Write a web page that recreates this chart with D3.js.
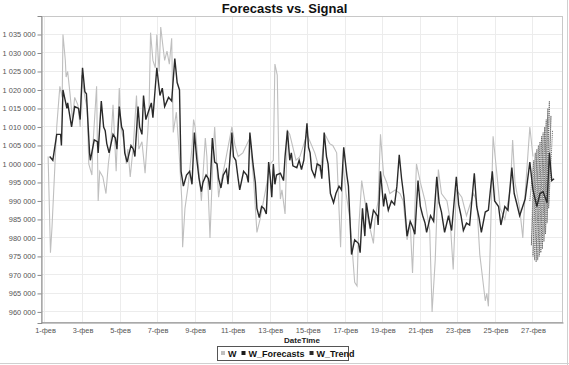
<!DOCTYPE html>
<html><head><meta charset="utf-8">
<script src="https://cdn.jsdelivr.net/npm/d3@7"></script>
<style>
html,body{margin:0;padding:0;background:#fff;}
svg{display:block;font-family:"Liberation Sans",Arial,sans-serif;}
</style></head>
<body>
<svg id="chart" width="569" height="365"></svg>
<script>
// ---- data (hours since 1 Feb 00:00, values in thousands) ----
const title = "Forecasts vs. Signal";
const xTitle = "DateTime";
const seriesNames = ["W", "W_Forecasts", "W_Trend"];
const xTickDays = [1,3,5,7,9,11,13,15,17,19,21,23,25,27];
const xTickLabels = ["1-фев","3-фев","5-фев","7-фев","9-фев","11-фев","13-фев","15-фев","17-фев","19-фев","21-фев","23-фев","25-фев","27-фев"];
const yTicks = [960000,965000,970000,975000,980000,985000,990000,995000,1000000,1005000,1010000,1015000,1020000,1025000,1030000,1035000];

const wHours = [4,7,9,15,19,22,23,26,27,29,32,35,38,42,45,47,51,54,56,60,61,66,68,70,74,78,81,84,87,91,95,97,101,104,106,109,113,117,120,124,128,130,133,135,138,141,143,146,148,151,153,156,159,162,164,168,171,175,176,179,183,188,190,192,196,200,205,207,211,215,217,222,224,230,239,243,247,253,262,267,271,275,283,288,292,294,297,299,301,303,307,310,313,321,326,335,339,345,349,352,358,364,368,373,378,381,385,390,396,399,401,405,409,413,420,422,426,429,433,437,441,448,454,458,463,467,470,475,480,486,492,495,499,503,507,514,518,522,526,533,539,548,552,556,563,565,567,569,573,578,582,588,595,598,601,607,611,614,620,624];
const wValues = [1002,976,983,1010,1021,1018,1035,1028,1023.5,1025,1019,1012,1018,1016,1010,1024,1018,1015,1000,997,1004,1021,990,998,996.5,992,1000,1005,1016,998,1020.5,1010,1006,1000,1004,996.5,1005,1018.5,1004,1006,997.5,1004,1014,1035.5,1028,1026,1035,1025,1037,1031.5,1028,1030.5,1027,1034,1008.5,1014,1005,990,977.5,988,994,1004.5,1012,1010,1000,990,1007,1002,980,1003,1010,991,994,1000,1010,1005,1002,1003,1007,995,981.5,985,994,1000,1001,1027,1024,1001,990.5,993,986.5,1009,1008,1001,1002,1008,1006,1003,1000,998,1008,1005.5,1005,1003,977.5,1000,992,985,968,967,982,995.5,990,985,978.5,985,990,1008,997,995,992,993,992,990,979.5,984,970.5,1000,995,990,982,960,974,998.5,992,990,985,971.5,993,991,986,992,990,975.5,963,965,961.5,975,1007.5,997,988,985,993,1006.5,995,988,980,992,1010,1002];

const trendHours = [6,10,15,20,21,23,28,29,34,38,43,45,48,51,53,57,58,63,67,68,72,75,77,79,82,87,90,92,95,98,100,102,105,110,113,115,119,121,124,126,129,132,136,138,143,147,150,153,158,162,166,169,172,174,177,181,185,188,191,194,197,200,202,206,209,211,214,217,220,222,225,228,232,234,239,241,244,247,249,254,258,260,262,266,269,271,274,277,280,283,286,288,290,292,294,296,301,305,307,310,313,315,317,322,325,328,331,335,337,339,341,345,348,352,354,357,360,362,365,369,372,376,379,382,386,388,392,396,401,403,406,409,411,416,420,425,426,429,433,435,439,443,447,450,453,456,459,463,467,470,473,477,480,483,486,488,493,497,501,504,507,511,516,520,526,529,532,535,539,543,549,552,555,558,563,567,572,575,580,583,588,592,597,600,603,607,614,620,624,629,633,637,642,645,648,651];
const trendValues = [1002,1001,1008,1008,1005,1020,1015,1016.5,1010,1015.5,1015,1012,1026,1019.5,1019,1003,1001,1006.5,1006,1003,1017,1010,1009,1005.5,1003,1008,1007,1004,1015.5,1010,1009,1003,1000.5,1005,1004,1002,1015.5,1010,1008,1018.5,1012,1014,1016.5,1012.5,1026,1018.5,1020.5,1015.5,1018,1017,1028.5,1022,1020,998,994,997,998,994.5,1008.5,1001.5,996,992.5,995,997,996,993,1007,1000.5,1000,996,993.5,997,998.5,994.5,1008.5,1002,1001,996,993,998,997,995,1008.5,1000,995,988,985.5,988.5,988,986.5,1000.5,996.5,991,1000,994.5,997,997.5,995.5,1002,1009,1001,1003,999.5,999,1001,998.5,1001,1011,1004.5,1003,998.5,996.5,1000,999.5,996,1008.5,1002,1000,992,989.5,992,994,993,1004.5,997,994,975.5,979.5,978.5,976,988,980.5,989.5,982.5,987.5,986,983.5,998,988.5,992,987.5,990,989,994,1002.5,996,991,980.5,984.5,983,981,995.5,988.5,986,984,981.5,986,984.5,996.5,989.5,987,981.5,986,982,996.5,989,986,982,984,983.5,997.5,988.5,985.5,981.5,987,987.5,998,990,988.5,983.5,988.5,987.5,999,992,989.5,986,990.5,1000.5,993,988.5,992,992.5,989.5,1003,995.5,996];

// forecast series: multi-step forecasts, each low at an origin hour and the high a few hours ahead
const fcHours = [620,625,622,627,624,629,626,631,628,633,630,635,632,637,634,639,636,641,638,643,640,645,642,647,644,649];
const fcValues = [990,1001,978,1003,975,1004,974,1005,973.5,1006,974,1007.5,975,1008.5,976,1010,977,1012,979,1015,981,1017,984,1013,988,1009];

// ---- drawing ----
const svg = d3.select("#chart");
const W = 569, H = 365;
const plot = {left: 41, right: 563, top: 16, bottom: 323};
const t0 = new Date(2013, 1, 1, 0, 0, 0);
const toDate = h => new Date(t0.getTime() + h * 3600000);

const x = d3.scaleTime().domain([toDate(-5.1), toDate(662.4)]).range([plot.left, plot.right]);
const y = d3.scaleLinear().domain([957000, 1040000]).range([plot.bottom, plot.top]);

const loc = d3.formatLocale({decimal: ",", thousands: " ", grouping: [3], currency: ["", ""]});
const fmt = loc.format(",d");

svg.append("rect").attr("width", W).attr("height", H).attr("fill", "#fff");

// grid
const tickDates = xTickDays.map(d => toDate((d - 1) * 24));
svg.append("g").selectAll("line").data(tickDates).join("line")
  .attr("x1", d => x(d)).attr("x2", d => x(d))
  .attr("y1", plot.top).attr("y2", plot.bottom)
  .attr("stroke", "#ececec").attr("stroke-width", 1).attr("shape-rendering", "crispEdges");
svg.append("g").selectAll("line").data(yTicks).join("line")
  .attr("x1", plot.left).attr("x2", plot.right)
  .attr("y1", d => y(d)).attr("y2", d => y(d))
  .attr("stroke", "#ececec").attr("stroke-width", 1).attr("shape-rendering", "crispEdges");

// series
const k = 1000;
const wData = wHours.map((h, i) => [toDate(h), wValues[i] * k]);
const trData = trendHours.map((h, i) => [toDate(h), trendValues[i] * k]);
const fcData = fcHours.map((h, i) => [toDate(h), fcValues[i] * k]);

const line = d3.line().x(d => x(d[0])).y(d => y(d[1]));

svg.append("path").datum(wData).attr("d", line)
  .attr("fill", "none").attr("stroke", "#bfbfbf").attr("stroke-width", 1.1);
svg.append("path").datum(fcData).attr("d", line)
  .attr("fill", "none").attr("stroke", "#555").attr("stroke-width", 0.8)
  .attr("stroke-dasharray", "1.2,0.9");
svg.append("path").datum(trData).attr("d", line)
  .attr("fill", "none").attr("stroke", "#2a2a2a").attr("stroke-width", 1.4);

// plot border
svg.append("rect").attr("x", plot.left + 0.5).attr("y", plot.top + 0.5)
  .attr("width", plot.right - plot.left - 1).attr("height", plot.bottom - plot.top - 1)
  .attr("fill", "none").attr("stroke", "#c8c8c8");

// y axis
const yAxis = d3.axisLeft(y).tickValues(yTicks).tickFormat(fmt).tickSize(4).tickPadding(2);
const gy = svg.append("g").attr("transform", `translate(${plot.left + 0.5},0)`).call(yAxis);
gy.select(".domain").attr("stroke", "#8a8a8a");
gy.selectAll(".tick line").attr("stroke", "#8a8a8a");
gy.selectAll("text").attr("fill", "#555").style("font-size", "7.4px")
  .style("font-family", "'Liberation Sans',Arial,sans-serif");

// x axis
const xAxis = d3.axisBottom(x).tickValues(tickDates)
  .tickFormat((d, i) => xTickLabels[i]).tickSize(0).tickPadding(5);
const gx = svg.append("g").attr("transform", `translate(0,${plot.bottom - 0.5})`).call(xAxis);
gx.select(".domain").attr("stroke", "#8a8a8a");
gx.selectAll("text").attr("fill", "#555").style("font-size", "7.4px")
  .style("font-family", "'Liberation Sans',Arial,sans-serif");

// titles
svg.append("text").attr("x", 284.5).attr("y", 13).attr("text-anchor", "middle")
  .style("font-size", "13px").style("font-weight", "bold").attr("fill", "#111").text(title);
svg.append("text").attr("x", (plot.left + plot.right) / 2).attr("y", 343).attr("text-anchor", "middle")
  .style("font-size", "8px").style("font-weight", "bold").attr("fill", "#222").text(xTitle);

// legend
const legColors = ["#bfbfbf", "#1a1a1a", "#2a2a2a"];
const lg = svg.append("g");
lg.append("rect").attr("x", 217.5).attr("y", 346.5).attr("width", 131).attr("height", 14)
  .attr("fill", "#fff").attr("stroke", "#555");
let lx = 221;
seriesNames.forEach((n, i) => {
  lg.append("rect").attr("x", lx).attr("y", 351).attr("width", 4).attr("height", 4).attr("fill", legColors[i]);
  const tx = lg.append("text").attr("x", lx + 7).attr("y", 357)
    .style("font-size", "9px").style("font-weight", "bold").attr("fill", "#111").text(n);
  lx += 7 + tx.node().getComputedTextLength() + 5;
});

// outer frame edges
svg.append("line").attr("x1", 567.5).attr("x2", 567.5).attr("y1", 0).attr("y2", H).attr("stroke", "#d0d0d0");
svg.append("line").attr("x1", 0).attr("x2", W).attr("y1", 363.5).attr("y2", 363.5).attr("stroke", "#d0d0d0");
</script>
</body></html>
